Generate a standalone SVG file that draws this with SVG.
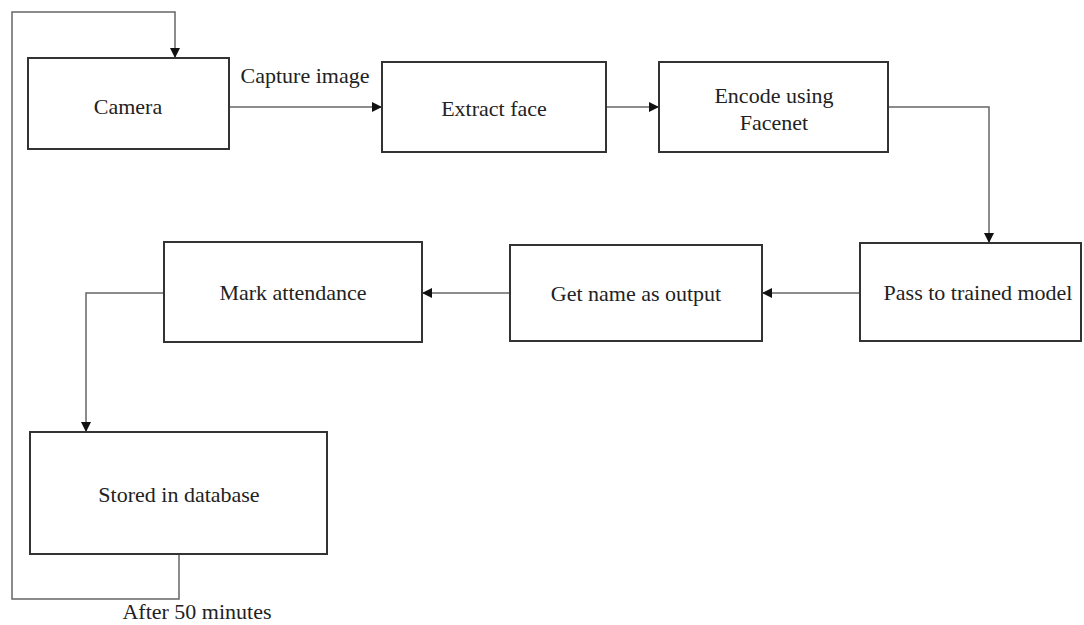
<svg xmlns="http://www.w3.org/2000/svg" width="1084" height="625" viewBox="0 0 1084 625">
<style>
.box{fill:#fff;stroke:#333;stroke-width:2}
.lbl{font-family:"Liberation Serif","Times New Roman",serif;font-size:22px;fill:#222;text-anchor:middle}
.con{fill:none;stroke:#666;stroke-width:1.5}
</style>
<defs>
<marker id="ah" markerWidth="10" markerHeight="10" refX="9" refY="5" orient="auto" markerUnits="userSpaceOnUse">
<path d="M0,0 L10,5 L0,10 Z" fill="#111"/>
</marker>
</defs>
<rect width="1084" height="625" fill="#fff"/>
<g id="connectors">
<path class="con" d="M229,107 H381" marker-end="url(#ah)"/>
<path class="con" d="M606,107 H658" marker-end="url(#ah)"/>
<path class="con" d="M888,107 H989 V242" marker-end="url(#ah)"/>
<path class="con" d="M860,293 H763" marker-end="url(#ah)"/>
<path class="con" d="M510,293 H423" marker-end="url(#ah)"/>
<path class="con" d="M164,293 H86 V431" marker-end="url(#ah)"/>
<path class="con" d="M179,554 V599 H12 V12 H175 V57" marker-end="url(#ah)"/>
<text class="lbl" x="305" y="83">Capture image</text>
<text class="lbl" x="197" y="619">After 50 minutes</text>
</g>
<g id="camera">
<rect class="box" x="28" y="58" width="201" height="91"/>
<text class="lbl" x="128" y="114">Camera</text>
</g>
<g id="extract">
<rect class="box" x="382" y="62" width="224" height="90"/>
<text class="lbl" x="494" y="116">Extract face</text>
</g>
<g id="encode">
<rect class="box" x="659" y="62" width="229" height="90"/>
<text class="lbl" x="774" y="103">Encode using</text>
<text class="lbl" x="774" y="130">Facenet</text>
</g>
<g id="pass">
<rect class="box" x="860" y="243" width="221" height="98"/>
<text class="lbl" x="978" y="300">Pass to trained model</text>
</g>
<g id="getname">
<rect class="box" x="510" y="245" width="252" height="96"/>
<text class="lbl" x="636" y="301">Get name as output</text>
</g>
<g id="mark">
<rect class="box" x="164" y="242" width="258" height="100"/>
<text class="lbl" x="293" y="300">Mark attendance</text>
</g>
<g id="stored">
<rect class="box" x="30" y="432" width="297" height="122"/>
<text class="lbl" x="179" y="502">Stored in database</text>
</g>
</svg>
